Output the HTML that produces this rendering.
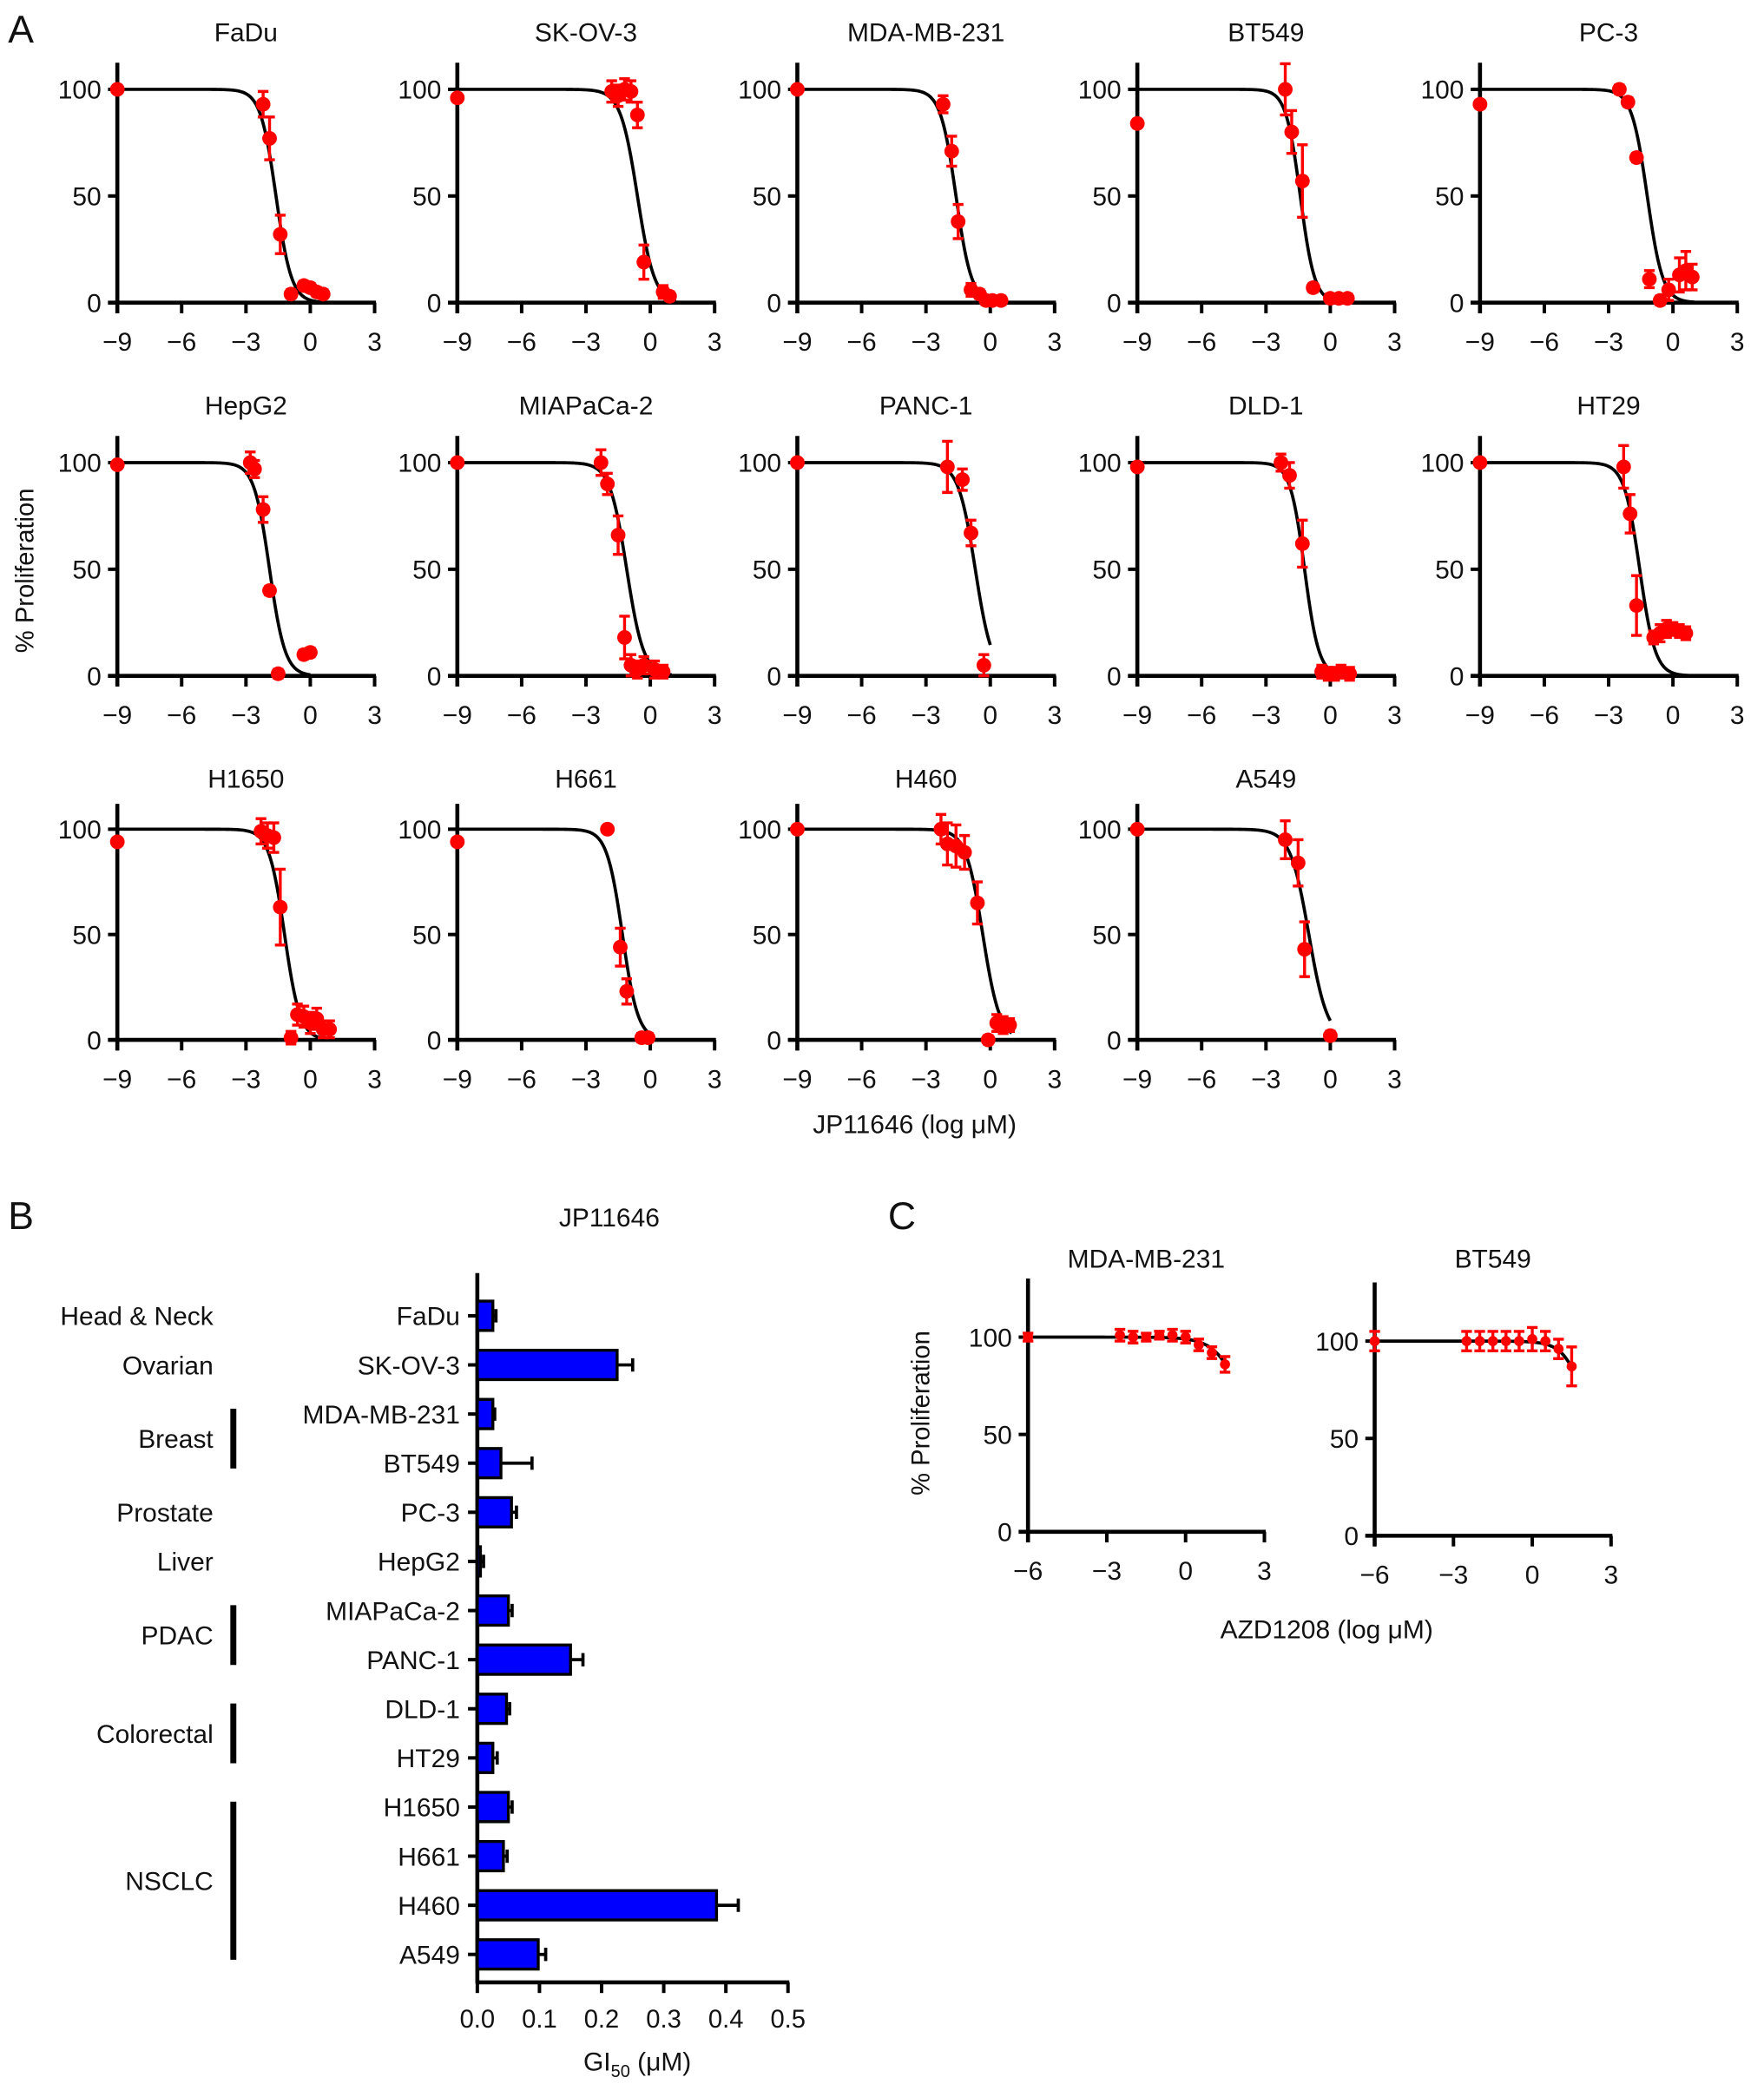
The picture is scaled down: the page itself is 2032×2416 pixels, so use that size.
<!DOCTYPE html>
<html><head><meta charset="utf-8"><style>
html,body{margin:0;padding:0;background:#fff;}
svg{display:block;}
text{font-family:"Liberation Sans",sans-serif;fill:#111;}
</style></head>
<body>
<svg id="fig" xmlns="http://www.w3.org/2000/svg" width="2032" height="2416" viewBox="0 0 1323 1573">
<text x="6" y="32" font-size="29">A</text>
<text x="6" y="922" font-size="29">B</text>
<text x="666" y="922" font-size="29">C</text>
<text transform="translate(25,428) rotate(-90)" text-anchor="middle" font-size="19">% Proliferation</text>
<text x="686" y="850" text-anchor="middle" font-size="19.5">JP11646 (log μM)</text>
<text x="457" y="920" text-anchor="middle" font-size="19.5">JP11646</text>
<text x="478" y="1553" text-anchor="middle" font-size="19.5">GI<tspan font-size="13" dy="5">50</tspan><tspan dy="-5"> (μM)</tspan></text>
<text transform="translate(697,1060) rotate(-90)" text-anchor="middle" font-size="19">% Proliferation</text>
<text x="995" y="1229" text-anchor="middle" font-size="19.5">AZD1208 (log μM)</text>
<g id="layer"></g>
</svg>
<script>
// ---- Panel A data ----
const aCells = ["FaDu","SK-OV-3","MDA-MB-231","BT549","PC-3","HepG2","MIAPaCa-2","PANC-1","DLD-1","HT29","H1650","H661","H460","A549"];
const aCenters = [-1.6,-0.6,-1.6,-1.4,-1.2,-1.9,-1.1,-0.7,-1.2,-1.55,-1.2,-1.3,-0.35,-1.0];
const aHill = [1.2,1.1,1.2,1.3,1.2,1.2,1.1,1.1,1.3,1.2,1.2,1.2,1.1,1.0];
const aCurveEnd = [1,1.2,1,1,1,0,1,0,1,1,0.9,0,1,0];
const aX = [
 [-9,-2.2,-1.9,-1.4,-0.9,-0.3,0,0.3,0.6],
 [-9,-1.8,-1.5,-1.2,-0.9,-0.6,-0.3,0.6,0.9],
 [-9,-2.2,-1.8,-1.5,-0.9,-0.5,-0.2,0.1,0.5],
 [-9,-2.1,-1.8,-1.3,-0.8,0,0.4,0.8],
 [-9,-2.5,-2.1,-1.7,-1.1,-0.6,-0.2,0.3,0.6,0.9],
 [-9,-2.8,-2.6,-2.2,-1.9,-1.5,-0.3,0],
 [-9,-2.3,-2,-1.5,-1.2,-0.9,-0.6,-0.3,0.2,0.6],
 [-9,-2,-1.3,-0.9,-0.3],
 [-9,-2.3,-1.9,-1.3,-0.4,-0.1,0.2,0.5,0.9],
 [-9,-2.3,-2,-1.7,-0.9,-0.6,-0.3,0,0.3,0.6],
 [-9,-2.3,-2,-1.7,-1.4,-0.9,-0.6,-0.3,0,0.3,0.6,0.9],
 [-9,-2,-1.4,-1.1,-0.4,-0.1],
 [-9,-2.3,-2,-1.6,-1.2,-0.6,-0.1,0.3,0.6,0.9],
 [-9,-2.1,-1.5,-1.2,0]
];
const aY = [
 [100,93,77,32,4,8,7,5,4],
 [96,99,97,100,99,88,19,5,3],
 [100,93,71,38,6,4,1,1,1],
 [84,100,80,57,7,2,2,2],
 [93,100,94,68,11,1,6,13,15,12],
 [99,100,97,78,40,1,10,11],
 [100,100,90,66,18,5,3,5,3,2],
 [100,98,92,67,5],
 [98,100,94,62,2,1,1,2,1],
 [100,98,76,33,18,20,22,22,21,20],
 [94,99,97,96,63,1,12,11,8,10,5,5],
 [94,100,44,23,1,1],
 [100,100,93,92,89,65,0,8,7,7],
 [100,95,84,43,2]
];
const aErr = [
 [0,6,10,9,2,2,2,2,2],
 [0,5,5,5,5,6,8,3,2],
 [0,4,7,8,3,2,2,2,2],
 [0,12,10,17,2,2,2,2],
 [0,2,2,2,4,2,5,8,9,6],
 [0,5,4,6,2,2,2,2],
 [0,6,5,9,10,5,4,4,4,3],
 [0,12,5,6,5],
 [0,4,6,11,3,3,3,3,3],
 [0,10,9,14,3,4,4,3,3,3],
 [0,6,6,7,18,3,5,5,5,5,4,4],
 [0,0,9,6,2,2],
 [0,7,10,10,8,10,2,4,4,3],
 [0,9,11,13,2]
];
const aYTicks = [0,50,100];
const aXTicks = [-9,-6,-3,0,3];
const aTickLabels = ["\u22129","\u22126","\u22123","0","3"];

// ---- Panel B data ----
const bCells = ["FaDu","SK-OV-3","MDA-MB-231","BT549","PC-3","HepG2","MIAPaCa-2","PANC-1","DLD-1","HT29","H1650","H661","H460","A549"];
const bValues = [0.025,0.225,0.025,0.038,0.055,0.005,0.05,0.15,0.047,0.025,0.05,0.042,0.385,0.098];
const bErrTop = [0.03,0.25,0.028,0.088,0.063,0.01,0.056,0.17,0.052,0.032,0.056,0.048,0.42,0.11];
const bTicks = [0,0.1,0.2,0.3,0.4,0.5];
const bTickLabels = ["0.0","0.1","0.2","0.3","0.4","0.5"];
const bGroups = ["Head & Neck","Ovarian","Breast","Prostate","Liver","PDAC","Colorectal","NSCLC"];
const bGroupStart = [0,1,2,4,5,6,8,10];
const bGroupEnd = [0,1,3,4,5,7,9,13];

// ---- Panel C data ----
const cCells = ["MDA-MB-231","BT549"];
const cCenters = [2.5,2.3];
const cHill = [0.8,1.0];
const cX = [
 [-6,-2.5,-2,-1.5,-1,-0.5,0,0.5,1,1.5],
 [-6,-2.5,-2,-1.5,-1,-0.5,0,0.5,1,1.5]
];
const cY = [
 [100,101,100,100,101,101,100,96,92,86],
 [100,100,100,100,100,100,101,100,96,87]
];
const cErr = [
 [2,3,3,2,2,3,3,3,3,4],
 [5,5,5,5,5,5,6,5,5,10]
];
const cXTicks = [-6,-3,0,3];
const cTickLabels = ["\u22126","\u22123","0","3"];
const cYTicks = [0,50,100];

const NS = "http://www.w3.org/2000/svg";
const layer = document.getElementById("layer");
function mk(tag, attrs, parent){
  const e = document.createElementNS(NS, tag);
  for (const k in attrs) e.setAttribute(k, attrs[k]);
  (parent||layer).appendChild(e);
  return e;
}
function hill(x,c,h){ return 100/(1+Math.pow(10,h*(x-c))); }

function doseChart(opts){
  const g = mk("g",{});
  
  
  const sx = x => opts.x0 + (x - opts.xmin) * opts.pxX;
  const sy = y => opts.y0 - y * opts.pxY;
  const t = mk("text",{x:(sx(opts.xmin)+sx(opts.xmax))/2, y:opts.titleY, "text-anchor":"middle", "font-size":19.5}, g);
  t.textContent = opts.title;
  
  
  const ya = mk("line",{x1:sx(opts.xmin),x2:sx(opts.xmin),y1:opts.axisTop,y2:sy(0)+8,stroke:"#000","stroke-width":3},g);
  
  
  const xa = mk("line",{x1:sx(opts.xmin)-7,x2:sx(opts.xmax)+1,y1:sy(0),y2:sy(0),stroke:"#000","stroke-width":3},g);
  
  
  opts.yTicks.forEach(v=>{
    mk("line",{x1:sx(opts.xmin)-7,x2:sx(opts.xmin),y1:sy(v),y2:sy(v),stroke:"#000","stroke-width":2.6},g);
    const l = mk("text",{x:sx(opts.xmin)-12,y:sy(v)+7,"text-anchor":"end","font-size":19.5},g);
    l.textContent = v;
    
    
  });
  opts.xTicks.forEach((v,i)=>{
    mk("line",{x1:sx(v),x2:sx(v),y1:sy(0),y2:sy(0)+8,stroke:"#000","stroke-width":2.6},g);
    const l = mk("text",{x:sx(v),y:sy(0)+36,"text-anchor":"middle","font-size":19.5},g);
    l.textContent = opts.xLabels[i];
    
    
  });
  let d = "";
  for (let x = opts.xFrom; x <= opts.curveEnd + 1e-9; x += 0.05){
    d += (d ? "L" : "M") + sx(x).toFixed(2) + "," + sy(hill(x,opts.c,opts.h)).toFixed(2);
  }
  const cv = mk("path",{d:d,fill:"none",stroke:"#000","stroke-width":2.4},g);
  
  
  opts.px.forEach((x,i)=>{
    const y = opts.py[i], e = opts.pe[i];
    if (e > 0){
      const eb = mk("path",{d:`M${sx(x)},${sy(y+e)}L${sx(x)},${sy(y-e)}M${sx(x)-4},${sy(y+e)}L${sx(x)+4},${sy(y+e)}M${sx(x)-4},${sy(y-e)}L${sx(x)+4},${sy(y-e)}`,stroke:"#f00","stroke-width":2.2,fill:"none"},g);
      
      
    }
    const p = mk("circle",{cx:sx(x),cy:sy(y),r:opts.r,fill:"#f00"},g);
    
    
  });
}

const colX = [88,343,598,853,1110];
const rowY0 = [227,507,780];
const rowPx = [1.6,1.6,1.58];
const rowTop = [47,327,603];
const rowTitle = [31,311,591];
aCells.forEach((name,i)=>{
  const r = Math.floor(i/5), c = i%5;
  doseChart({name:"dose-response-"+name.toLowerCase(), title:name, x0:colX[c], xmin:-9, xmax:3, pxX:16.08,
    y0:rowY0[r], pxY:rowPx[r], axisTop:rowTop[r], titleY:rowTitle[r],
    yTicks:aYTicks, xTicks:aXTicks, xLabels:aTickLabels, xFrom:-9,
    c:aCenters[i], h:aHill[i], curveEnd:aCurveEnd[i], px:aX[i], py:aY[i], pe:aErr[i], r:5.5});
});

const cColX = [771,1031];
const cY0 = [1149,1152];
cCells.forEach((name,i)=>{
  doseChart({name:"azd1208-"+name.toLowerCase(), title:name, x0:cColX[i], xmin:-6, xmax:3, pxX:19.7,
    y0:cY0[i], pxY:1.46, axisTop:cY0[i]-190, titleY:951,
    yTicks:cYTicks, xTicks:cXTicks, xLabels:cTickLabels, xFrom:-6,
    c:cCenters[i], h:cHill[i], curveEnd:1.5, px:cX[i], py:cY[i], pe:cErr[i], r:3.8});
});

// Panel B bar chart
(function(){
  const g = mk("g",{});
  
  
  const x0 = 358, px = 466, yFirst = 987, step = 36.85, bh = 22, axisY = 1487;
  const sx = v => x0 + v*px;
  const sy = i => yFirst + i*step;
  const ya = mk("line",{x1:x0,x2:x0,y1:955,y2:axisY+1,stroke:"#000","stroke-width":3},g);
  
  
  const xa = mk("line",{x1:x0-1,x2:sx(0.5)+1,y1:axisY,y2:axisY,stroke:"#000","stroke-width":3},g);
  
  
  bTicks.forEach((v,i)=>{
    mk("line",{x1:sx(v),x2:sx(v),y1:axisY,y2:axisY+8,stroke:"#000","stroke-width":2.6},g);
    const l = mk("text",{x:sx(v),y:axisY+34,"text-anchor":"middle","font-size":19},g);
    l.textContent = bTickLabels[i];
    
    
  });
  bCells.forEach((name,i)=>{
    const y = sy(i);
    mk("line",{x1:x0-7,x2:x0,y1:y,y2:y,stroke:"#000","stroke-width":2.6},g);
    const l = mk("text",{x:x0-13,y:y+7,"text-anchor":"end","font-size":19.5},g);
    l.textContent = name;
    
    
    const eb = mk("path",{d:`M${sx(bValues[i])},${y}L${sx(bErrTop[i])},${y}M${sx(bErrTop[i])},${y-5}L${sx(bErrTop[i])},${y+5}`,stroke:"#000","stroke-width":2.4,fill:"none"},g);
    
    
    const b = mk("rect",{x:x0,y:y-bh/2,width:Math.max(0,sx(bValues[i])-x0),height:bh,fill:"#0000ff",stroke:"#000","stroke-width":2.2},g);
    
    
  });
  bGroups.forEach((name,i)=>{
    const y1 = sy(bGroupStart[i]), y2 = sy(bGroupEnd[i]);
    const l = mk("text",{x:160,y:(y1+y2)/2+7,"text-anchor":"end","font-size":19.5},g);
    l.textContent = name;
    
    
    if (bGroupEnd[i] > bGroupStart[i]){
      const br = mk("line",{x1:175,x2:175,y1:y1-4,y2:y2+4,stroke:"#000","stroke-width":4.5},g);
      
      
    }
  });
})();
</script>
</body></html>
